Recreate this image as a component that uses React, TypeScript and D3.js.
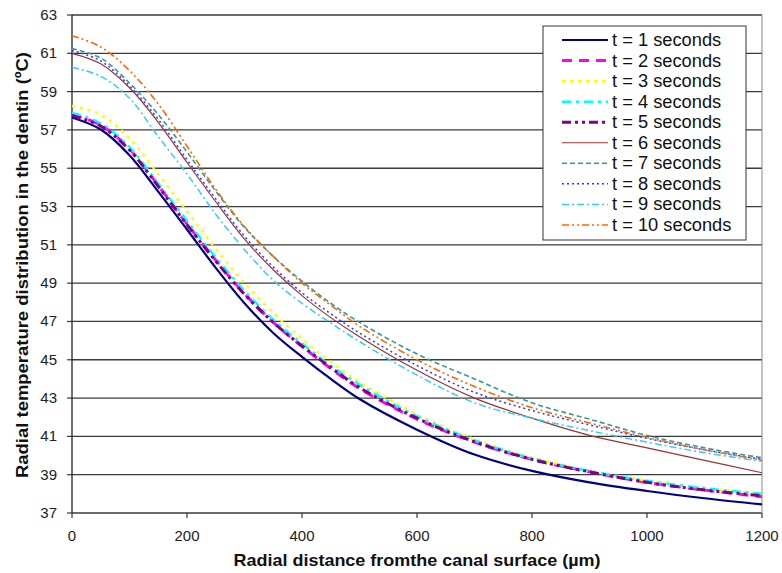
import React from "react";
import * as d3 from "d3";

const distances = [0, 50, 100, 150, 200, 250, 300, 350, 400, 450, 500, 600, 700, 800, 900, 1000, 1100, 1200];

const t1 = [57.65, 57.02, 55.68, 53.78, 51.8, 49.8, 47.95, 46.4, 45.15, 44.0, 42.95, 41.35, 40.05, 39.2, 38.6, 38.15, 37.77, 37.45];
const t2 = [57.8, 57.25, 56.0, 54.1, 52.1, 50.2, 48.45, 46.95, 45.7, 44.55, 43.5, 41.9, 40.7, 39.8, 39.15, 38.6, 38.2, 37.85];
const t3 = [58.25, 57.8, 56.55, 54.7, 52.75, 50.8, 49.0, 47.45, 46.1, 44.9, 43.85, 42.15, 40.85, 39.9, 39.2, 38.7, 38.3, 38.02];
const t4 = [57.9, 57.35, 56.1, 54.2, 52.25, 50.35, 48.6, 47.1, 45.85, 44.7, 43.7, 42.05, 40.8, 39.85, 39.2, 38.68, 38.3, 38.0];
const t5 = [57.75, 57.2, 55.95, 54.05, 52.05, 50.15, 48.42, 46.95, 45.72, 44.6, 43.55, 41.95, 40.72, 39.8, 39.15, 38.6, 38.2, 37.9];
const t6 = [61.0, 60.45, 59.2, 57.4, 55.3, 53.25, 51.3, 49.7, 48.35, 47.2, 46.2, 44.45, 43.0, 41.95, 41.05, 40.4, 39.75, 39.1];
const t7 = [61.25, 60.75, 59.45, 57.8, 55.85, 53.8, 51.9, 50.4, 49.1, 47.95, 46.95, 45.3, 44.0, 42.75, 41.9, 41.05, 40.4, 39.88];
const t8 = [61.15, 60.6, 59.3, 57.55, 55.45, 53.4, 51.45, 49.85, 48.5, 47.4, 46.4, 44.7, 43.3, 42.35, 41.6, 40.9, 40.3, 39.8];
const t9 = [60.27, 59.8, 58.65, 56.65, 54.7, 52.6, 50.75, 49.15, 47.95, 46.92, 45.95, 44.2, 42.75, 41.95, 41.3, 40.7, 40.15, 39.7];
const t10 = [61.92, 61.33, 60.1, 58.35, 56.15, 53.9, 51.95, 50.4, 49.0, 47.85, 46.75, 45.0, 43.6, 42.5, 41.7, 40.95, 40.3, 39.76];

const seriesNames = [
  "t = 1 seconds", "t = 2 seconds", "t = 3 seconds", "t = 4 seconds", "t = 5 seconds",
  "t = 6 seconds", "t = 7 seconds", "t = 8 seconds", "t = 9 seconds", "t = 10 seconds",
];
const seriesValues = [t1, t2, t3, t4, t5, t6, t7, t8, t9, t10];
const seriesColors = ["#000080", "#FF00FF", "#FFFF00", "#00FFFF", "#800080", "#993333", "#339999", "#3333FF", "#33CCFF", "#FF6600"];
const seriesWidths = [2.2, 3, 2.6, 2.5, 3, 1.2, 1.6, 1.5, 1.5, 1.6];
const seriesDashes = ["", "10,7", "3,5", "9,5,3,5", "9,4,3,4,3,4", "", "5,3", "2,3", "7,3,2,3", "7,3,2,3,2,3"];

const yTicks = [37, 39, 41, 43, 45, 47, 49, 51, 53, 55, 57, 59, 61, 63];
const xTicks = [0, 200, 400, 600, 800, 1000, 1200];

const W = 782;
const H = 573;
const left = 72;
const right = 762;
const top = 15;
const bottom = 513;
const font = "'Liberation Sans', Arial, sans-serif";

export default function App() {
  const x = d3.scaleLinear().domain([0, 1200]).range([left, right]);
  const y = d3.scaleLinear().domain([37, 63]).range([bottom, top]);
  const line = d3
    .line<[number, number]>()
    .x((d) => x(d[0]))
    .y((d) => y(d[1]))
    .curve(d3.curveCatmullRom.alpha(0.5));

  const legX = 543;
  const legY = 26;
  const legW = 203;
  const legH = 214;
  const rowY = (i: number) => 40 + i * 20.55;

  return (
    <svg
      width={W}
      height={H}
      style={{ position: "absolute", left: 0, top: 0, background: "#fff" }}
      fontFamily={font}
    >
      <rect x={0} y={0} width={W} height={H} fill="#fff" />
      {yTicks.map((t) => (
        <g key={"y" + t}>
          <line x1={left} x2={right} y1={y(t)} y2={y(t)} stroke="#3a3a3a" strokeWidth={1.3} />
          <line x1={left - 5} x2={left} y1={y(t)} y2={y(t)} stroke="#3a3a3a" strokeWidth={1.2} />
          <text x={left - 15} y={y(t) + 5} textAnchor="end" fontSize={15} fill="#222">
            {t}
          </text>
        </g>
      ))}
      <line x1={right} x2={right} y1={top} y2={bottom} stroke="#888" strokeWidth={1} />
      <line x1={left} x2={left} y1={top} y2={bottom} stroke="#222" strokeWidth={1.3} />
      {xTicks.map((t) => (
        <g key={"x" + t}>
          <line x1={x(t)} x2={x(t)} y1={bottom} y2={bottom + 5} stroke="#3a3a3a" strokeWidth={1.2} />
          <text x={x(t)} y={bottom + 28} textAnchor="middle" fontSize={15} fill="#222">
            {t}
          </text>
        </g>
      ))}
      {seriesValues.map((vals, i) => (
        <path
          key={"s" + i}
          d={line(distances.map((d, j) => [d, vals[j]] as [number, number])) || ""}
          fill="none"
          stroke={seriesColors[i]}
          strokeWidth={seriesWidths[i]}
          strokeDasharray={seriesDashes[i] || undefined}
        />
      ))}
      <rect x={legX} y={legY} width={legW} height={legH} fill="#fff" stroke="#333" strokeWidth={1} />
      {seriesNames.map((n, i) => (
        <g key={"l" + i}>
          <line
            x1={562}
            x2={608}
            y1={rowY(i)}
            y2={rowY(i)}
            stroke={seriesColors[i]}
            strokeWidth={seriesWidths[i]}
            strokeDasharray={seriesDashes[i] || undefined}
          />
          <text x={612} y={rowY(i) + 6} fontSize={18.3} fill="#111">
            {n}
          </text>
        </g>
      ))}
      <text
        x={(left + right) / 2}
        y={566}
        textAnchor="middle"
        fontSize={17}
        fontWeight="bold"
        fill="#111"
        textLength={367}
        lengthAdjust="spacingAndGlyphs"
      >
        Radial distance fromthe canal surface (µm)
      </text>
      <text
        transform={`translate(28, 265) rotate(-90)`}
        textAnchor="middle"
        fontSize={17}
        fontWeight="bold"
        fill="#111"
        textLength={426}
        lengthAdjust="spacingAndGlyphs"
      >
        Radial temperature distribution in the dentin (ºC)
      </text>
    </svg>
  );
}
